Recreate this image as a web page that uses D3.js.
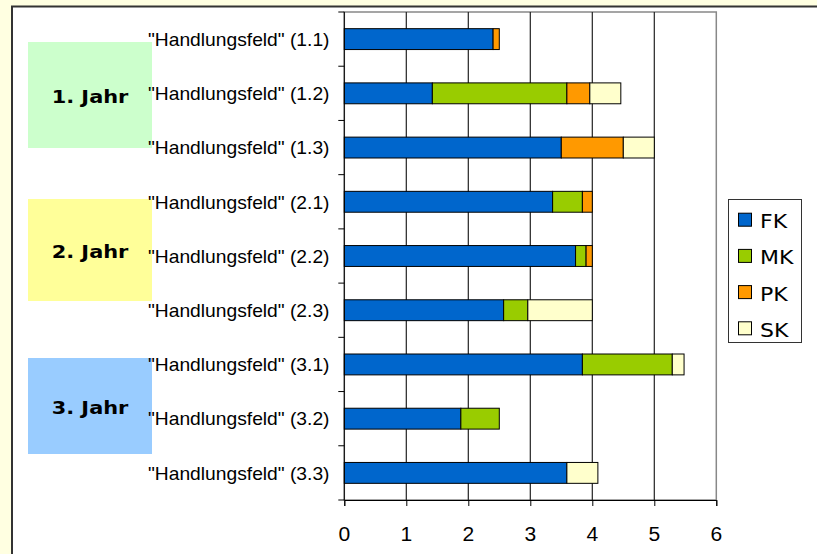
<!DOCTYPE html>
<html>
<head>
<meta charset="utf-8">
<script src="https://cdn.jsdelivr.net/npm/d3@7"></script>
<style>
  html, body { margin: 0; padding: 0; overflow: hidden; background: #ffffe1; }
  svg { display: block; }
</style>
</head>
<body>
<svg id="chart" width="817" height="554"></svg>
<script>
// data
var categories = ['"Handlungsfeld" (1.1)', '"Handlungsfeld" (1.2)', '"Handlungsfeld" (1.3)',
                  '"Handlungsfeld" (2.1)', '"Handlungsfeld" (2.2)', '"Handlungsfeld" (2.3)',
                  '"Handlungsfeld" (3.1)', '"Handlungsfeld" (3.2)', '"Handlungsfeld" (3.3)'];
var seriesNames = ["FK", "MK", "PK", "SK"];
var fk = [2.4, 1.42, 3.5, 3.36, 3.73, 2.57, 3.84, 1.88, 3.59];
var mk = [0, 2.17, 0, 0.48, 0.17, 0.39, 1.45, 0.62, 0];
var pk = [0.1, 0.37, 1.0, 0.16, 0.1, 0, 0, 0, 0];
var sk = [0, 0.5, 0.5, 0, 0, 1.04, 0.19, 0, 0.5];
var xTicks = [0, 1, 2, 3, 4, 5, 6];
var years = ["1. Jahr", "2. Jahr", "3. Jahr"];

var colors = ["#0066cc", "#99cc00", "#ff9900", "#ffffcc"];
var yearColors = ["#ccffcc", "#ffff99", "#99ccff"];

var svg = d3.select("#chart");
var margin = {top: 12, left: 344.3};

// white panel with dark frame (right/bottom edges run off the picture)
svg.append("rect")
   .attr("x", 12).attr("y", 6.5)
   .attr("width", 900).attr("height", 700)
   .attr("fill", "#fff")
   .attr("stroke", "#333")
   .attr("stroke-width", 2);

// helper: text stretched a bit horizontally like the picture
function label(g, x, y, txt, size, anchor, family, weight, sx) {
  return g.append("text")
    .attr("transform", "translate(" + x + "," + y + ") scale(" + (sx || 1.1) + ",1)")
    .attr("text-anchor", anchor)
    .attr("font-family", family)
    .attr("font-weight", weight || "normal")
    .attr("font-size", size)
    .attr("fill", "#000")
    .text(txt);
}

// scales
var x_scale = d3.scaleLinear()
    .domain([0, 6])
    .range([margin.left, 716.3]);

var y_scale = d3.scaleBand()
    .domain(categories)
    .range([margin.top, 500])
    .padding(0);

var barH = y_scale.bandwidth() * 0.385;

// plot area border (grey)
svg.append("rect")
   .attr("x", x_scale(0)).attr("y", margin.top)
   .attr("width", x_scale(6) - x_scale(0))
   .attr("height", 500 - margin.top)
   .attr("fill", "none")
   .attr("stroke", "#888")
   .attr("stroke-width", 1.5);

// vertical gridlines
svg.selectAll(".grid")
   .data(xTicks.filter(function(d) { return d > 0 && d < 6; }))
   .enter()
   .append("line")
   .attr("class", "grid")
   .attr("x1", function(d) { return x_scale(d); })
   .attr("x2", function(d) { return x_scale(d); })
   .attr("y1", margin.top)
   .attr("y2", 500)
   .attr("stroke", "#222")
   .attr("stroke-width", 1.2);

// stacked bars
var rows = categories.map(function(c, i) {
  return {cat: c, FK: fk[i], MK: mk[i], PK: pk[i], SK: sk[i]};
});
var stacked = d3.stack().keys(seriesNames)(rows);

svg.selectAll(".layer")
   .data(stacked)
   .enter()
   .append("g")
   .attr("class", "layer")
   .attr("fill", function(d, i) { return colors[i]; })
   .selectAll("rect")
   .data(function(d) { return d.filter(function(s) { return s[1] - s[0] > 0; }); })
   .enter()
   .append("rect")
   .attr("x", function(d) { return x_scale(d[0]); })
   .attr("width", function(d) { return x_scale(d[1]) - x_scale(d[0]); })
   .attr("y", function(d) { return y_scale(d.data.cat) + (y_scale.bandwidth() - barH) / 2; })
   .attr("height", barH)
   .attr("stroke", "#000")
   .attr("stroke-width", 1);

// x axis
var x_axis = d3.axisBottom(x_scale)
    .tickValues(xTicks)
    .tickSize(6)
    .tickFormat(d3.format("d"));

var gx = svg.append("g")
   .attr("transform", "translate(0,500)")
   .call(x_axis);
gx.select(".domain").attr("stroke", "#000");
gx.selectAll(".tick line").attr("stroke", "#000");
gx.selectAll(".tick text").remove();
xTicks.forEach(function(t) {
  label(gx, x_scale(t), 41, String(t), "19.5px", "middle", "'Liberation Sans', Arial, sans-serif", "normal", 1.08);
});

// y axis: ticks at band boundaries
var bounds = categories.map(function(c) { return y_scale(c); }).concat([500]);
svg.append("line")
   .attr("x1", x_scale(0)).attr("x2", x_scale(0))
   .attr("y1", margin.top).attr("y2", 500)
   .attr("stroke", "#000");
svg.selectAll(".ytick")
   .data(bounds)
   .enter()
   .append("line")
   .attr("class", "ytick")
   .attr("x1", x_scale(0) - 6).attr("x2", x_scale(0))
   .attr("y1", function(d) { return d; })
   .attr("y2", function(d) { return d; })
   .attr("stroke", "#000");

// year boxes (behind the category labels)
var boxG = svg.append("g");
var boxes = [{y: 42, h: 106, ty: 103.3}, {y: 199, h: 102, ty: 258.3}, {y: 358, h: 96, ty: 414}];
years.forEach(function(name, i) {
  boxG.append("rect")
      .attr("x", 28).attr("y", boxes[i].y)
      .attr("width", 124).attr("height", boxes[i].h)
      .attr("fill", yearColors[i]);
  label(boxG, 90, boxes[i].ty, name, "18.5px", "middle", "'DejaVu Sans', Verdana, sans-serif", "bold", 1.13);
});

// category labels
var labG = svg.append("g");
categories.forEach(function(c) {
  label(labG, 329.5, y_scale(c) + y_scale.bandwidth() / 2 + 6.8, c, "17.5px", "end", "'Liberation Sans', Arial, sans-serif", "normal", 1.1);
});

// legend
var lg = svg.append("g");
lg.append("rect")
  .attr("x", 728.5).attr("y", 199.5)
  .attr("width", 73).attr("height", 143)
  .attr("fill", "#fff")
  .attr("stroke", "#333")
  .attr("stroke-width", 1);
seriesNames.forEach(function(name, i) {
  var cy = 219.7 + i * 36.2;
  lg.append("rect")
    .attr("x", 738.5).attr("y", cy - 6.5)
    .attr("width", 13).attr("height", 13)
    .attr("fill", colors[i])
    .attr("stroke", "#000");
  label(lg, 760, cy + 8.5, name, "20px", "start", "'DejaVu Sans', Verdana, sans-serif", "normal", 1.1);
});
</script>
</body>
</html>
